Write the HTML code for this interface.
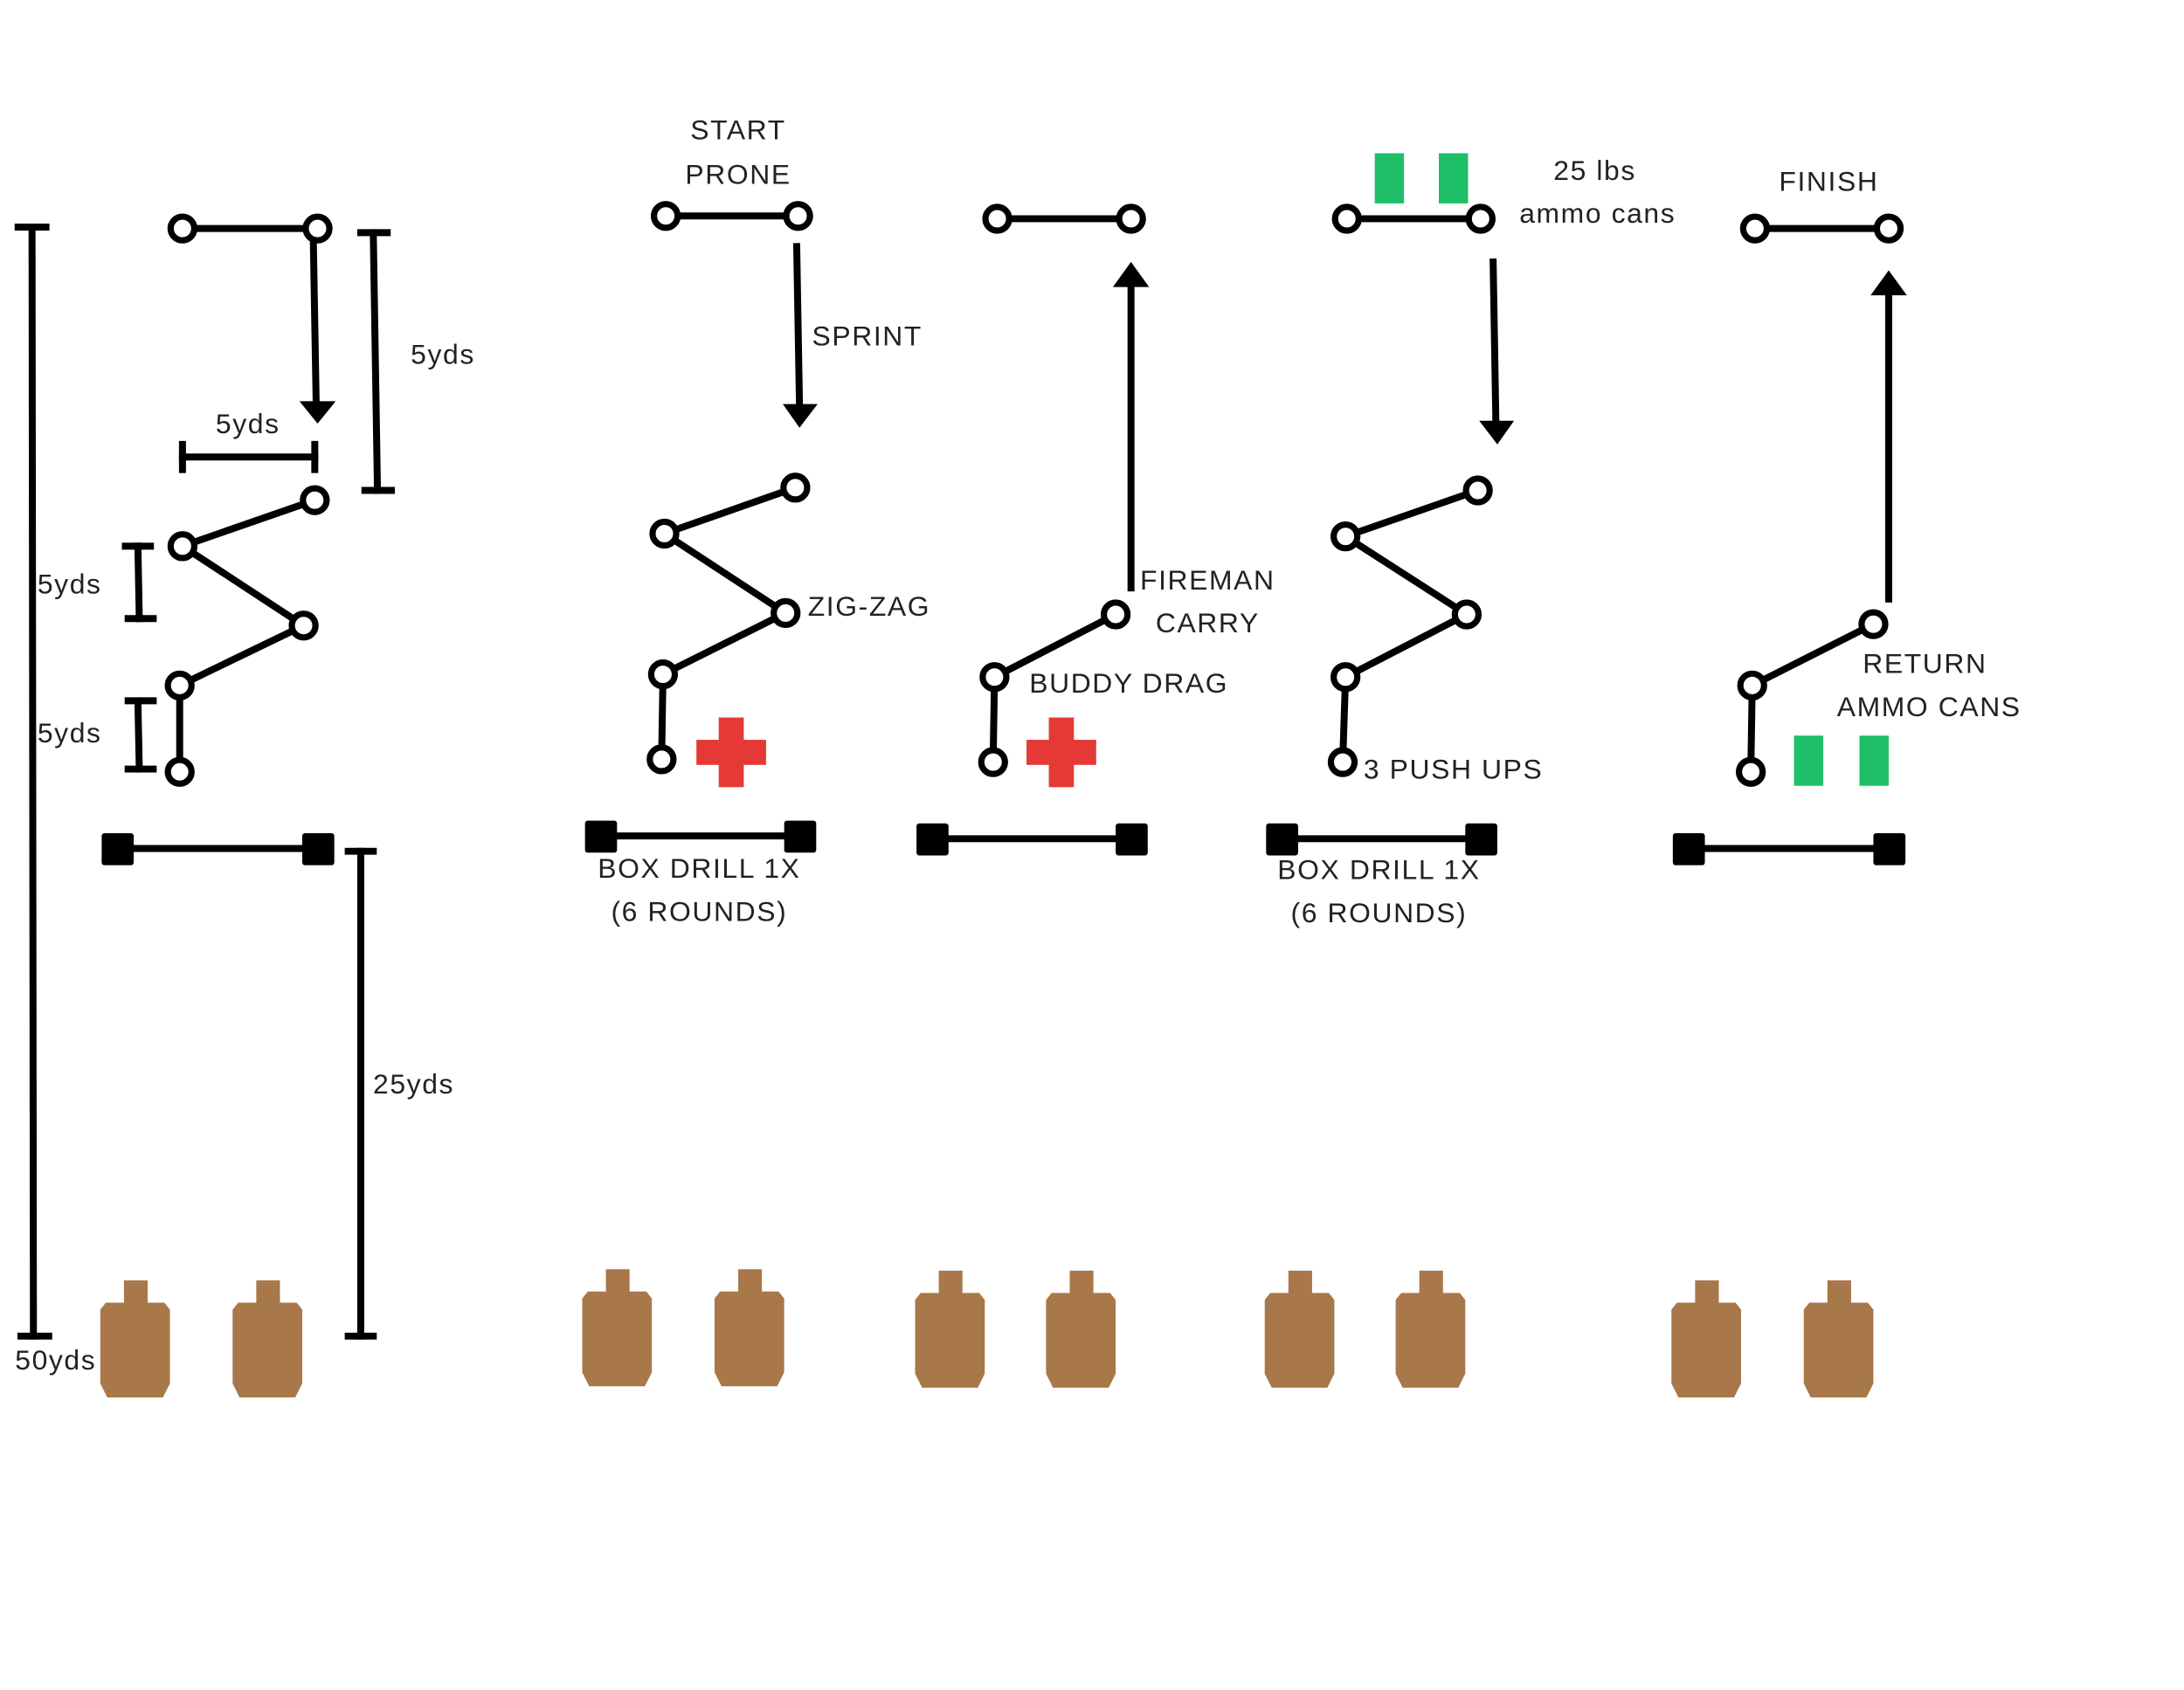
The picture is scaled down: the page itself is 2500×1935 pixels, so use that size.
<!DOCTYPE html>
<html><head><meta charset="utf-8"><style>
html,body{margin:0;padding:0;background:#fff;width:2500px;height:1935px;overflow:hidden}
svg{display:block}
text{font-family:"Liberation Sans","DejaVu Sans",sans-serif;font-size:20px;fill:#222;letter-spacing:1px}
</style></head><body>
<svg width="2500" height="1935" viewBox="0 0 1568 1213" preserveAspectRatio="none" xmlns="http://www.w3.org/2000/svg">
<defs>
<g id="tg"><rect x="-8" y="-16" width="17" height="20" fill="#a8784a"/><path d="M-21,0 H21 L25,5 V58 L20,68 H-20 L-25,58 V5 Z" fill="#a8784a"/></g>
<g id="rc"><rect x="-9" y="-25" width="18" height="50" fill="#e53935"/><rect x="-25" y="-9" width="50" height="18" fill="#e53935"/></g>
</defs>
<g stroke="#000" stroke-width="5" fill="none" stroke-linecap="square">
<!-- col1 -->
<line x1="131" y1="164" x2="228" y2="164"/>
<line x1="225" y1="175" x2="227" y2="290"/>
<line x1="131" y1="328" x2="226" y2="328"/><line x1="131" y1="319" x2="131" y2="337"/><line x1="226" y1="319" x2="226" y2="337"/>
<line x1="268" y1="167" x2="271" y2="352"/><line x1="259" y1="167" x2="278" y2="167"/><line x1="262" y1="352" x2="281" y2="352"/>
<polyline points="226,359 131,392 218,449 129,492 129,554"/>
<line x1="99" y1="392" x2="100" y2="444"/><line x1="90" y1="392" x2="108" y2="392"/><line x1="92" y1="444" x2="110" y2="444"/>
<line x1="99" y1="503" x2="100" y2="552"/><line x1="92" y1="503" x2="110" y2="503"/><line x1="92" y1="552" x2="110" y2="552"/>
<line x1="84" y1="609" x2="228" y2="609"/>
<line x1="259" y1="611" x2="259" y2="959"/><line x1="250" y1="611" x2="268" y2="611"/><line x1="250" y1="959" x2="268" y2="959"/>
<line x1="23" y1="163" x2="24" y2="959"/><line x1="13" y1="163" x2="33" y2="163"/><line x1="15" y1="959" x2="35" y2="959"/>
<!-- col2 -->
<line x1="478" y1="155" x2="573" y2="155"/>
<line x1="572" y1="177" x2="574" y2="292"/>
<polyline points="571,350 477,383 564,440 476,484 475,545"/>
<line x1="431" y1="600" x2="574" y2="600"/>
<!-- col3 -->
<line x1="716" y1="157" x2="812" y2="157"/>
<line x1="812" y1="422" x2="812" y2="203"/>
<polyline points="801,441 714,486 713,547"/>
<line x1="669" y1="602" x2="812" y2="602"/>
<!-- col4 -->
<line x1="967" y1="157" x2="1063" y2="157"/>
<line x1="1072" y1="188" x2="1074" y2="305"/>
<polyline points="1061,352 966,385 1053,441 966,486 964,547"/>
<line x1="920" y1="602" x2="1063" y2="602"/>
<!-- col5 -->
<line x1="1260" y1="164" x2="1356" y2="164"/>
<line x1="1356" y1="430" x2="1356" y2="208"/>
<polyline points="1345,448 1258,492 1257,554"/>
<line x1="1212" y1="609" x2="1356" y2="609"/>
</g>
<!-- arrowheads -->
<g fill="#000">
<polygon points="215,288 241,288 228,304"/>
<polygon points="562,290 587,290 574,307"/>
<polygon points="799,206 825,206 812,188"/>
<polygon points="1062,302 1087,302 1075,319"/>
<polygon points="1343,212 1369,212 1356,194"/>
</g>
<!-- squares -->
<g fill="#000">
<rect x="73" y="598" width="23" height="23" rx="2"/><rect x="217" y="598" width="23" height="23" rx="2"/>
<rect x="420" y="589" width="23" height="23" rx="2"/><rect x="563" y="589" width="23" height="23" rx="2"/>
<rect x="658" y="591" width="23" height="23" rx="2"/><rect x="801" y="591" width="23" height="23" rx="2"/>
<rect x="909" y="591" width="23" height="23" rx="2"/><rect x="1052" y="591" width="23" height="23" rx="2"/>
<rect x="1201" y="598" width="23" height="23" rx="2"/><rect x="1345" y="598" width="23" height="23" rx="2"/>
</g>
<!-- circles -->
<g fill="#fff" stroke="#000" stroke-width="4.5">
<circle cx="131" cy="164" r="8.5"/><circle cx="228" cy="164" r="8.5"/>
<circle cx="226" cy="359" r="8.5"/><circle cx="131" cy="392" r="8.5"/><circle cx="218" cy="449" r="8.5"/><circle cx="129" cy="492" r="8.5"/><circle cx="129" cy="554" r="8.5"/>
<circle cx="478" cy="155" r="8.5"/><circle cx="573" cy="155" r="8.5"/>
<circle cx="571" cy="350" r="8.5"/><circle cx="477" cy="383" r="8.5"/><circle cx="564" cy="440" r="8.5"/><circle cx="476" cy="484" r="8.5"/><circle cx="475" cy="545" r="8.5"/>
<circle cx="716" cy="157" r="8.5"/><circle cx="812" cy="157" r="8.5"/>
<circle cx="801" cy="441" r="8.5"/><circle cx="714" cy="486" r="8.5"/><circle cx="713" cy="547" r="8.5"/>
<circle cx="967" cy="157" r="8.5"/><circle cx="1063" cy="157" r="8.5"/>
<circle cx="1061" cy="352" r="8.5"/><circle cx="966" cy="385" r="8.5"/><circle cx="1053" cy="441" r="8.5"/><circle cx="966" cy="486" r="8.5"/><circle cx="964" cy="547" r="8.5"/>
<circle cx="1260" cy="164" r="8.5"/><circle cx="1356" cy="164" r="8.5"/>
<circle cx="1345" cy="448" r="8.5"/><circle cx="1258" cy="492" r="8.5"/><circle cx="1257" cy="554" r="8.5"/>
</g>
<!-- red crosses -->
<use href="#rc" x="525" y="540"/><use href="#rc" x="762" y="540"/>
<!-- green cans -->
<g fill="#1fbf6a">
<rect x="987" y="110" width="21" height="36"/><rect x="1033" y="110" width="21" height="36"/>
<rect x="1288" y="528" width="21" height="36"/><rect x="1335" y="528" width="21" height="36"/>
</g>
<!-- targets -->
<use href="#tg" x="97" y="935"/><use href="#tg" x="192" y="935"/>
<use href="#tg" x="443" y="927"/><use href="#tg" x="538" y="927"/>
<use href="#tg" x="682" y="928"/><use href="#tg" x="776" y="928"/>
<use href="#tg" x="933" y="928"/><use href="#tg" x="1027" y="928"/>
<use href="#tg" x="1225" y="935"/><use href="#tg" x="1320" y="935"/>
<!-- labels -->
<g text-anchor="middle">
<text x="318" y="261">5yds</text>
<text x="178" y="311">5yds</text>
<text x="50" y="426">5yds</text>
<text x="50" y="533">5yds</text>
<text x="297" y="785">25yds</text>
<text x="40" y="983">50yds</text>
<text x="530" y="100">START</text>
<text x="530" y="132">PRONE</text>
<text x="502" y="630">BOX DRILL 1X</text>
<text x="502" y="661">(6 ROUNDS)</text>
<text x="867" y="423">FIREMAN</text>
<text x="867" y="454">CARRY</text>
<text x="1145" y="129">25 lbs</text>
<text x="1147" y="160">ammo cans</text>
<text x="990" y="631">BOX DRILL 1X</text>
<text x="990" y="662">(6 ROUNDS)</text>
<text x="1313" y="137">FINISH</text>
<text x="1382" y="483">RETURN</text>
<text x="1385" y="514">AMMO CANS</text>
</g>
<text x="583" y="248">SPRINT</text>
<text x="580" y="442">ZIG-ZAG</text>
<text x="739" y="497">BUDDY DRAG</text>
<text x="979" y="559">3 PUSH UPS</text>
</svg>
</body></html>
